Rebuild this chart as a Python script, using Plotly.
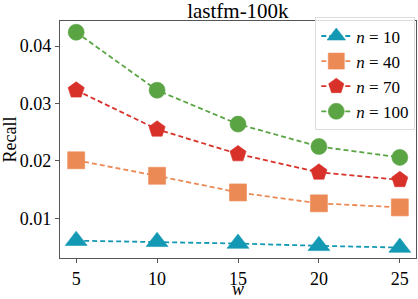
import plotly.graph_objects as go

w_values = [5, 10, 15, 20, 25]
recall_n10 = [0.0061, 0.0059, 0.0056, 0.0052, 0.0049]
recall_n40 = [0.0201, 0.0174, 0.0145, 0.0126, 0.0119]
recall_n70 = [0.0323, 0.0255, 0.0212, 0.0180, 0.0167]
recall_n100 = [0.0424, 0.0323, 0.0264, 0.0225, 0.0206]
series_names = ["<i>n</i> = 10", "<i>n</i> = 40", "<i>n</i> = 70", "<i>n</i> = 100"]
x_ticks = [5, 10, 15, 20, 25]
y_ticks = [0.01, 0.02, 0.03, 0.04]

series = [recall_n10, recall_n40, recall_n70, recall_n100]
colors = ["#1499b4", "#ec8a56", "#d8312a", "#5aa444"]
symbols = ["triangle-up", "square", "pentagon", "circle"]
sizes = [19, 17, 17, 16]

FONT = "Liberation Serif, Times New Roman, serif"
fig = go.Figure()
for i, (vals, name) in enumerate(zip(series, series_names)):
    fig.add_trace(go.Scatter(
        x=w_values, y=vals, name=name, mode="lines+markers",
        line=dict(color=colors[i], width=1.8, dash="5px,3px"),
        marker=dict(symbol=symbols[i], size=sizes[i], color=colors[i],
                    line=dict(width=0.6, color=colors[i])),
        legendgroup=f"g{i}",
    ))

axis_common = dict(
    showline=True, mirror=True, linecolor="#555555", linewidth=1.2,
    ticks="outside", ticklen=4, tickcolor="#555555", showgrid=False,
    zeroline=False, tickfont=dict(family=FONT, size=18, color="black"),
)
fig.update_layout(
    width=418, height=299,
    margin=dict(l=59, r=1, t=21, b=41),
    paper_bgcolor="white", plot_bgcolor="white",
    title=dict(text="lastfm-100k", x=0.5691, xanchor="center", y=0.966, yanchor="middle",
               font=dict(family=FONT, size=21, color="black")),
    xaxis=dict(range=[4, 26], tickvals=x_ticks, **axis_common),
    yaxis=dict(range=[0.00308, 0.04436], tickvals=y_ticks, tickformat=".2f",
               title=dict(text="Recall", standoff=6, font=dict(family=FONT, size=18, color="black")),
               **axis_common),
    legend=dict(x=0.998, xanchor="right", y=1.015, yanchor="top",
                bordercolor="#dddddd", borderwidth=1, bgcolor="rgba(255,255,255,0.8)",
                font=dict(family=FONT, size=17, color="black"),
                tracegroupgap=0, itemwidth=30),
    showlegend=True,
)
fig.add_annotation(text="<i>w</i>", xref="paper", yref="paper", x=0.5, y=-0.13,
                   xanchor="center", yanchor="middle", showarrow=False,
                   font=dict(family=FONT, size=18, color="black"))
fig.write_html("out.html", config={"displayModeBar": False},
               post_script="document.body.style.margin='0';document.body.style.overflow='hidden';")
